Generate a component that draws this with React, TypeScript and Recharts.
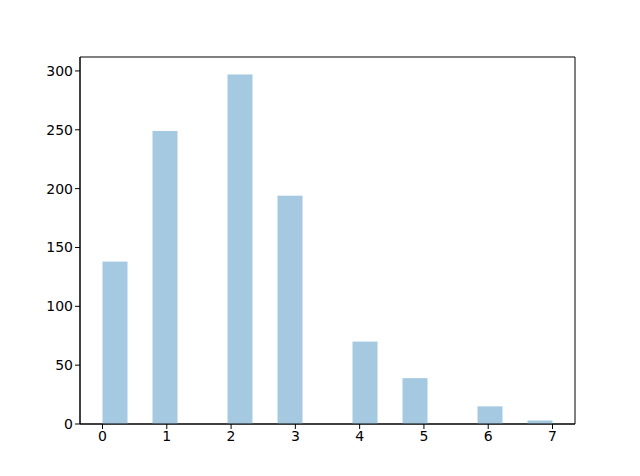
import React from "react";
import { ComposedChart, Bar, XAxis, YAxis, ReferenceArea } from "recharts";

const binEdges = Array.from({ length: 19 }, (_, i) => (i * 7) / 18);
const binCounts = [138, 0, 249, 0, 0, 297, 0, 194, 0, 0, 70, 0, 39, 0, 0, 15, 0, 3];
const xTicks = [0, 1, 2, 3, 4, 5, 6, 7];
const yTicks = [0, 50, 100, 150, 200, 250, 300];
const xDomain: [number, number] = [-0.35, 7.35];
const yDomain: [number, number] = [0, 311.85];

const data = binCounts.map((c, i) => ({
  x: (binEdges[i] + binEdges[i + 1]) / 2,
  count: c,
}));

const HistBar = (props: any) => {
  const { x, y, width, height } = props;
  if (!height || height <= 0) return null;
  return <rect x={x} y={y} width={width} height={height} fill="#a5c9e1" />;
};

export default function App() {
  const tickStyle = { fill: "#000", fontSize: 14, fontFamily: "DejaVu Sans" };
  return (
    <div style={{ position: "absolute", left: 0, top: 0, background: "#fff" }}>
      <ComposedChart
        width={640}
        height={476}
        data={data}
        barCategoryGap={0}
        barGap={0}
        margin={{ top: 57, right: 65, bottom: 0, left: 30 }}
      >
        <XAxis
          dataKey="x"
          type="number"
          domain={xDomain}
          ticks={xTicks}
          tick={tickStyle}
          tickLine={{ stroke: "#000" }}
          tickSize={5}
          axisLine={{ stroke: "#000" }}
          allowDataOverflow
          height={52}
        />
        <YAxis
          type="number"
          domain={yDomain}
          ticks={yTicks}
          tick={tickStyle}
          tickLine={{ stroke: "#000" }}
          tickSize={5}
          axisLine={{ stroke: "#000" }}
          allowDataOverflow
          width={50}
        />
        <Bar
          dataKey="count"
          fill="#a5c9e1"
          isAnimationActive={false}
          shape={HistBar}
        />
        <ReferenceArea
          x1={xDomain[0]}
          x2={xDomain[1]}
          y1={yDomain[0]}
          y2={yDomain[1]}
          fill="none"
          fillOpacity={0}
          stroke="#000"
          strokeWidth={1}
          ifOverflow="visible"
        />
      </ComposedChart>
    </div>
  );
}
